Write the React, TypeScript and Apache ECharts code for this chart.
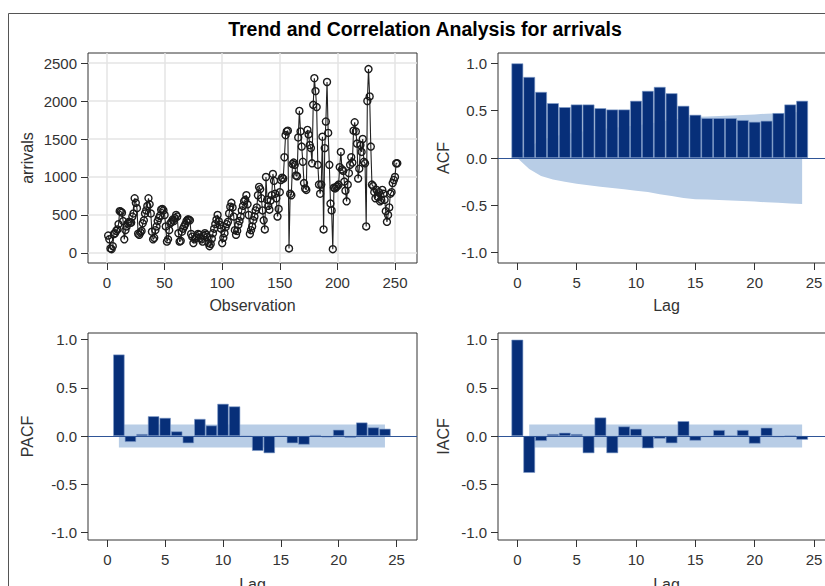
import React, { useEffect, useRef } from "react";
import * as echarts from "echarts";

// ---- data ----
const arrivals = [
  230, 180, 60, 50, 90, 250, 260, 290, 310, 380, 550, 545,
  530, 420, 180, 300, 350, 390, 410, 395, 400, 480, 520, 720,
  660, 590, 255, 240, 270, 290, 390, 430, 520, 560, 620, 720,
  640, 520, 280, 180, 200, 300, 350, 420, 460, 490, 570, 580,
  560, 500, 350, 150, 180, 300, 390, 410, 440, 420, 460, 500,
  480, 260, 150, 160, 280, 320, 350, 380, 420, 440, 440, 430,
  250, 215, 130, 180, 200, 220, 250, 240, 200, 180, 150, 230,
  260, 240, 210, 130, 90, 120, 190, 260, 320, 380, 440, 500,
  420, 370, 320, 130, 200, 260, 340, 380, 410, 520, 610, 660,
  600, 480, 300, 240, 290, 370, 420, 480, 560, 620, 680, 700,
  760, 640, 500, 250, 300, 350, 430, 480, 560, 600, 760, 870,
  840, 720, 560, 430, 310, 1000, 700, 620, 570, 690, 760, 1040,
  950, 780, 720, 480, 580, 800, 960, 990, 980, 1260, 1550, 1600,
  1610, 60, 780, 760, 1170, 1190, 1160, 1020, 1010, 1520, 1870, 1600,
  1400, 1200, 920, 850, 830, 1620, 1560, 1420, 1380, 1180, 1950, 2300,
  2130, 1920, 1160, 900, 780, 900, 1530, 310, 1380, 1730, 2250, 1580,
  1160, 650, 560, 50, 860, 850, 870, 880, 900, 1130, 1330, 1100,
  1080, 940, 820, 680, 900, 1050, 1160, 1260, 1190, 1610, 1720, 1600,
  1440, 980, 1110, 1420, 1330, 1500, 1200, 1180, 350, 2000, 2420, 2060,
  1400, 900, 880, 800, 720, 830, 740, 800, 680, 700, 830, 780,
  700, 550, 410, 500, 600, 780, 800, 920, 960, 1000, 1180, 1180,
];

const lags = [0, 1, 2, 3, 4, 5, 6, 7, 8, 9, 10, 11, 12, 13, 14, 15, 16, 17, 18, 19, 20, 21, 22, 23, 24];

const acf = [
  1.0, 0.856, 0.698, 0.579, 0.537, 0.565, 0.565, 0.526, 0.512, 0.512, 0.604, 0.709, 0.751,
  0.684, 0.551, 0.456, 0.421, 0.421, 0.421, 0.4, 0.382, 0.393, 0.474, 0.565, 0.604,
];

const acfBand = [
  0, 0.115, 0.19, 0.228, 0.252, 0.273, 0.289, 0.304, 0.318, 0.331, 0.345, 0.36, 0.383,
  0.403, 0.422, 0.435, 0.44, 0.444, 0.448, 0.454, 0.461, 0.468, 0.474, 0.48, 0.487,
];

const pacfLags = [1, 2, 3, 4, 5, 6, 7, 8, 9, 10, 11, 12, 13, 14, 15, 16, 17, 18, 19, 20, 21, 22, 23, 24];
const pacf = [
  0.846, -0.061, 0.02, 0.205, 0.188, 0.048, -0.075, 0.177, 0.109, 0.334, 0.307, -0.005,
  -0.154, -0.178, -0.005, -0.075, -0.089, 0.01, -0.014, 0.065, -0.017, 0.14, 0.089, 0.075,
];

const iacf = [
  1.0, -0.382, -0.051, 0.02, 0.034, 0.02, -0.178, 0.192, -0.178, 0.099, 0.075, -0.127, -0.027,
  -0.075, 0.154, -0.048, -0.01, 0.062, 0.005, 0.062, -0.079, 0.086, -0.012, 0.003, -0.038,
];

const whiteNoiseBand = 0.12;
const bandLags = [1, 24];

const obsTicks = [0, 50, 100, 150, 200, 250];
const arrivalTicks = [0, 500, 1000, 1500, 2000, 2500];
const lagTicks = [0, 5, 10, 15, 20, 25];
const corrTicks = [-1, -0.5, 0, 0.5, 1];

const titleText = "Trend and Correlation Analysis for arrivals";

// ---- styles ----
const FONT = '"Liberation Sans", Arial, sans-serif';
const TEXT = "#333";
const BAR = "#072f79";
const BAND = "#b8cde6";
const ZERO = "#2f5597";

const plainFmt = (v: number) => String(v);
const corrFmt = (v: number) => v.toFixed(1);

function xAxisDef(gridIndex: number, min: number, max: number, ticks: number[], name: string, nameGap: number, grid: boolean) {
  return {
    type: "value",
    gridIndex,
    min,
    max,
    name,
    nameLocation: "middle",
    nameGap,
    nameTextStyle: { fontSize: 16, color: TEXT, fontFamily: FONT },
    axisLine: { show: false, onZero: false },
    axisTick: { show: true, length: 7, lineStyle: { color: "#333" }, customValues: ticks },
    axisLabel: { customValues: ticks, margin: 12, fontSize: 15, color: TEXT, fontFamily: FONT, formatter: plainFmt },
    splitLine: { show: grid, lineStyle: { color: "#e4e4e4", width: 1.5 } },
  };
}

function yAxisDef(gridIndex: number, min: number, max: number, ticks: number[], name: string, nameGap: number, grid: boolean, fmt: (v: number) => string) {
  return {
    type: "value",
    gridIndex,
    min,
    max,
    name,
    nameLocation: "middle",
    nameGap,
    nameTextStyle: { fontSize: 16, color: TEXT, fontFamily: FONT },
    axisLine: { show: false, onZero: false },
    axisTick: { show: true, length: 7, lineStyle: { color: "#333" }, customValues: ticks },
    axisLabel: { customValues: ticks, margin: 11, fontSize: 15, color: TEXT, fontFamily: FONT, formatter: fmt },
    splitLine: { show: grid, lineStyle: { color: "#e4e4e4", width: 1.5 } },
  };
}

function bandSeries(idx: number, data: number[][]) {
  return {
    type: "line",
    xAxisIndex: idx,
    yAxisIndex: idx,
    data,
    showSymbol: false,
    symbol: "none",
    silent: true,
    lineStyle: { width: 0, color: BAND },
    areaStyle: { color: BAND, opacity: 1, origin: 0 },
    z: 1,
  };
}

function barSeries(idx: number, data: number[][], width: number) {
  return {
    type: "bar",
    xAxisIndex: idx,
    yAxisIndex: idx,
    data,
    barWidth: width,
    silent: true,
    itemStyle: { color: BAR, borderColor: "#7f9cc9", borderWidth: 0.6 },
    z: 3,
    markLine: {
      silent: true,
      symbol: "none",
      label: { show: false },
      lineStyle: { color: ZERO, width: 1.2, type: "solid" },
      data: [{ yAxis: 0 }],
      z: 4,
    },
  };
}

const gridBase = {
  show: true,
  borderColor: "#333",
  borderWidth: 1,
  backgroundColor: "transparent",
  containLabel: false,
  outerBoundsMode: "none",
};

export default function App() {
  const ref = useRef<HTMLDivElement>(null);

  useEffect(() => {
    if (!ref.current) return;
    const chart = echarts.init(ref.current, null, { renderer: "svg" });

    const option = {
      animation: false,
      backgroundColor: "#fff",
      graphic: [
        {
          type: "rect",
          shape: { x: 8.5, y: 13.5, width: 900, height: 700 },
          style: { fill: "none", stroke: "#555", lineWidth: 1 },
          silent: true,
        },
        {
          type: "text",
          x: 425,
          y: 29,
          style: {
            text: titleText,
            font: `bold 19.5px ${FONT}`,
            textAlign: "center",
            textVerticalAlign: "middle",
            fill: "#000",
          },
        },
      ],
      grid: [
        { ...gridBase, left: 88, top: 53, width: 329, height: 210 },
        { ...gridBase, left: 498, top: 53, width: 337, height: 210 },
        { ...gridBase, left: 88, top: 333, width: 329, height: 207 },
        { ...gridBase, left: 498, top: 333, width: 337, height: 207 },
      ],
      xAxis: [
        xAxisDef(0, -16.5, 269.1, obsTicks, "Observation", 34, true),
        xAxisDef(1, -1.63, 26.77, lagTicks, "Lag", 34, false),
        xAxisDef(2, -1.67, 26.77, lagTicks, "Lag", 36, false),
        xAxisDef(3, -1.63, 26.77, lagTicks, "Lag", 36, false),
      ],
      yAxis: [
        yAxisDef(0, -131.6, 2631.6, arrivalTicks, "arrivals", 53, true, plainFmt),
        yAxisDef(1, -1.11, 1.11, corrTicks, "ACF", 47, false, corrFmt),
        yAxisDef(2, -1.08, 1.07, corrTicks, "PACF", 53, false, corrFmt),
        yAxisDef(3, -1.08, 1.07, corrTicks, "IACF", 47, false, corrFmt),
      ],
      series: [
        {
          type: "line",
          xAxisIndex: 0,
          yAxisIndex: 0,
          data: arrivals.map((v, i) => [i + 1, v]),
          symbol: "circle",
          symbolSize: 7,
          showAllSymbol: true,
          itemStyle: { color: "rgba(255,255,255,0)", borderColor: "#1a1a1a", borderWidth: 1.4 },
          lineStyle: { color: "#222", width: 1.1 },
          silent: true,
          z: 3,
        },
        bandSeries(1, lags.map((l, i) => [l, acfBand[i]])),
        bandSeries(1, lags.map((l, i) => [l, -acfBand[i]])),
        barSeries(1, lags.map((l, i) => [l, acf[i]]), 11.7),
        bandSeries(2, bandLags.map((l) => [l, whiteNoiseBand])),
        bandSeries(2, bandLags.map((l) => [l, -whiteNoiseBand])),
        barSeries(2, pacfLags.map((l, i) => [l, pacf[i]]), 11.3),
        bandSeries(3, bandLags.map((l) => [l, whiteNoiseBand])),
        bandSeries(3, bandLags.map((l) => [l, -whiteNoiseBand])),
        barSeries(3, lags.map((l, i) => [l, iacf[i]]), 11.7),
      ],
    };

    chart.setOption(option as any);
    return () => chart.dispose();
  }, []);

  return (
    <div
      ref={ref}
      style={{ position: "absolute", left: 0, top: 0, width: 825, height: 586, overflow: "hidden" }}
    />
  );
}
